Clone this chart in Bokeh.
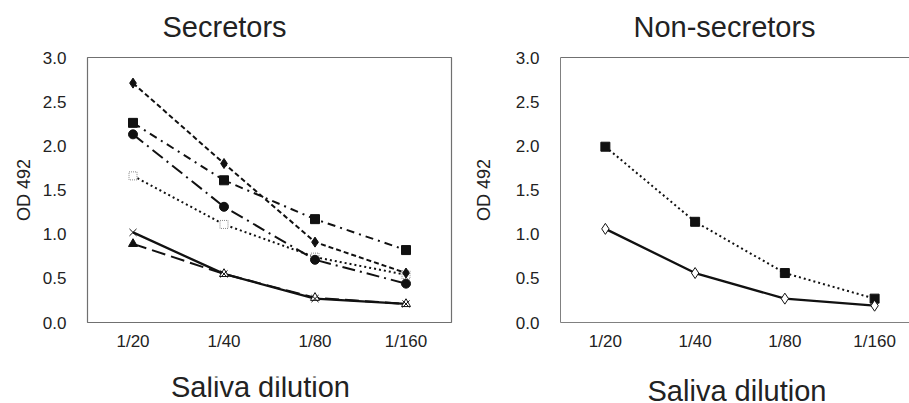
from bokeh.plotting import figure
from bokeh.layouts import row, column
from bokeh.models import FixedTicker, Range1d, LinearAxis, PrintfTickFormatter
from bokeh.core.properties import value
from bokeh.embed import file_html
from bokeh.resources import INLINE

# ---------------- data ----------------
dilutions = ["1/20", "1/40", "1/80", "1/160"]

sec_diamond = [2.71, 1.80, 0.91, 0.56]
sec_square = [2.26, 1.61, 1.17, 0.82]
sec_circle = [2.13, 1.31, 0.71, 0.44]
sec_open_square = [1.66, 1.11, 0.74, 0.54]
sec_cross = [1.02, 0.55, 0.27, 0.21]
sec_triangle = [0.89, 0.55, 0.28, 0.21]

non_square = [1.99, 1.14, 0.56, 0.27]
non_diamond = [1.06, 0.56, 0.27, 0.19]

y_ticks = [0.0, 0.5, 1.0, 1.5, 2.0, 2.5, 3.0]

titles = ["Secretors", "Non-secretors"]
x_title = "Saliva dilution"
y_title = "OD 492"

# ---------------- styling ----------------
FONT = "Liberation Sans"
TXT = "#222222"
INK = "#111111"
W1, W2 = 470, 439
H_TOP, H_MID, H_BOT = 48, 328, 27
MID_BOTTOM = H_TOP + H_MID
BASE_SHIFT = 11  # measured offset of rendered baseline

xs = list(range(1, len(dilutions) + 1))
overrides = {x: lab for x, lab in zip(xs, dilutions)}


def style_axes(p, xstand, ylab_stand):
    for ax in p.yaxis:
        ax.ticker = FixedTicker(ticks=y_ticks)
        ax.formatter = PrintfTickFormatter(format="%.1f")
        ax.axis_label = y_title
        ax.axis_label_text_font = FONT
        ax.axis_label_text_font_size = "18px"
        ax.axis_label_text_font_style = "normal"
        ax.axis_label_text_color = TXT
        ax.axis_label_standoff = ylab_stand
        ax.major_label_text_font = FONT
        ax.major_label_text_font_size = "17px"
        ax.major_label_text_color = TXT
        ax.major_label_standoff = 15
        ax.major_tick_line_color = None
        ax.minor_tick_line_color = None
    for ax in p.xaxis:
        ax.ticker = FixedTicker(ticks=xs)
        ax.major_label_overrides = overrides
        ax.major_label_text_font = FONT
        ax.major_label_text_font_size = "17px"
        ax.major_label_text_color = TXT
        ax.major_label_standoff = xstand
        ax.major_tick_out = 0
        ax.minor_tick_out = 0
        ax.major_tick_line_color = None
        ax.minor_tick_line_color = None
    p.xgrid.visible = False
    p.ygrid.visible = False
    p.background_fill_color = "white"
    p.border_fill_color = "white"


def text_strip(width, height, txt, x, y, align):
    s = figure(width=width, height=height, output_backend="svg", toolbar_location=None,
               title=None, x_range=Range1d(0, width), y_range=Range1d(0, height),
               x_axis_location=None, y_axis_location=None,
               min_border_left=0, min_border_right=0, min_border_top=0,
               min_border_bottom=0)
    s.outline_line_color = None
    s.xgrid.visible = False
    s.ygrid.visible = False
    s.text(x=[x], y=[y + BASE_SHIFT], text=[txt], text_font=value(FONT),
           text_font_size="29px", text_color=TXT, text_align=align,
           text_baseline="alphabetic")
    return s


# ---------------- title strips ----------------
t1 = text_strip(W1, H_TOP, titles[0], 162, H_TOP - 37, "left")
t2 = text_strip(W2, H_TOP, titles[1], 633 - W1, H_TOP - 37, "left")

# ---------------- left panel ----------------
p1 = figure(width=W1, height=H_MID, output_backend="svg", toolbar_location=None,
            title=None, x_range=Range1d(0.5, 4.5), y_range=Range1d(0, 3),
            min_border_left=87, min_border_right=19, min_border_top=57 - H_TOP,
            min_border_bottom=MID_BOTTOM - 327)
style_axes(p1, 9, 6)
p1.outline_line_color = "#707070"
p1.outline_line_width = 1.2
p1.xaxis.axis_line_color = None
p1.yaxis.axis_line_color = None

p1.line(xs, sec_open_square, line_color=INK, line_width=2, line_dash="2 3")
p1.line(xs, sec_circle, line_color=INK, line_width=2, line_dash="13 5 2 5")
p1.line(xs, sec_square, line_color=INK, line_width=2, line_dash="8 5 2 5")
p1.line(xs, sec_diamond, line_color=INK, line_width=2, line_dash="5 3")
p1.line(xs, sec_triangle, line_color=INK, line_width=2, line_dash="14 6")
p1.line(xs, sec_cross, line_color=INK, line_width=2.3)

p1.scatter(xs, sec_open_square, marker="square", size=8, fill_color="white",
           line_color="#888888", line_width=1, line_dash="1 1")
p1.scatter(xs, sec_circle, marker="circle", size=9, fill_color=INK, line_color=INK)
p1.scatter(xs, sec_square, marker="square", size=9, fill_color=INK, line_color=INK)
p1.scatter(xs, sec_diamond, marker="diamond", size=10, fill_color=INK, line_color=INK)
p1.scatter(xs, sec_triangle, marker="triangle", size=9,
           fill_color=[INK, "white", "white", "white"], line_color=INK, line_width=1)
p1.scatter(xs, sec_cross, marker="x", size=10, line_color=INK, line_width=1)

# ---------------- right panel ----------------
px_per_unit = 91.8
p2_left = 82
frame_w = W2 - p2_left
p2 = figure(width=W2, height=H_MID, output_backend="svg", toolbar_location=None,
            title=None, x_range=Range1d(0.5, 0.5 + frame_w / px_per_unit),
            y_range=Range1d(0, 3),
            min_border_left=p2_left, min_border_right=0, min_border_top=57 - H_TOP,
            min_border_bottom=MID_BOTTOM - 322)
style_axes(p2, 9, 19)
p2.outline_line_color = None
p2.xaxis.axis_line_color = "#808080"
p2.yaxis.axis_line_color = "#808080"
top_axis = LinearAxis(major_tick_line_color=None, minor_tick_line_color=None,
                      major_tick_out=0, minor_tick_out=0,
                      major_label_text_font_size="0px", axis_line_color="#707070",
                      major_label_standoff=0, ticker=FixedTicker(ticks=[]))
p2.add_layout(top_axis, "above")

p2.line(xs, non_square, line_color=INK, line_width=2, line_dash="2 3")
p2.line(xs, non_diamond, line_color=INK, line_width=2.3)
p2.scatter(xs, non_square, marker="square", size=9, fill_color=INK, line_color=INK)
p2.scatter(xs, non_diamond, marker="diamond", size=11, fill_color="white",
           line_color=INK, line_width=1)

# ---------------- x-title strips ----------------
b1 = text_strip(W1, H_BOT, x_title, 260, 403 - 397, "center")
b2 = text_strip(W2, H_BOT, x_title, 736.5 - W1, 403 - 401, "center")

layout = column(row(t1, t2), row(p1, p2), row(b1, b2))
open("out.html", "w").write(file_html(layout, INLINE))
